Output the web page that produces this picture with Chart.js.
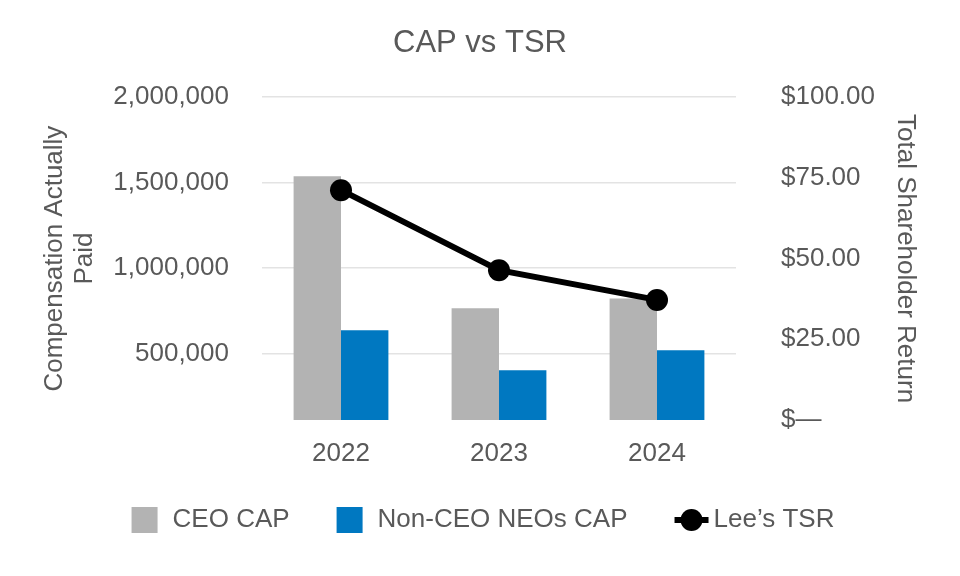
<!DOCTYPE html>
<html>
<head>
<meta charset="utf-8">
<script src="https://cdn.jsdelivr.net/npm/chart.js@4.4.1/dist/chart.umd.min.js"></script>
<style>
  html, body { margin: 0; padding: 0; background: #fff; }
  #wrap { width: 960px; height: 576px; }
</style>
</head>
<body>
<div id="wrap"><canvas id="chart"></canvas></div>
<script>
const years = ["2022", "2023", "2024"];
const ceoCap = [1537000, 765000, 821000];
const neoCap = [636000, 402000, 519000];
const leesTsr = [71.2, 46.4, 37.2];
const capTicks = [500000, 1000000, 1500000, 2000000];
const tsrTicks = [0, 25, 50, 75, 100];

const FONT = "'Liberation Sans', Arial, sans-serif";
const TEXT = "#595959";
const GRAY = "#b3b3b3";
const BLUE = "#0078c1";

// legend drawn by hand so the line item gets its line + dot marker
const bottomLegend = {
  id: "bottomLegend",
  afterDraw(chart) {
    const ctx = chart.ctx;
    const items = chart.data.datasets.map(ds => ({
      text: ds.label,
      type: ds.type || "bar",
      color: ds.backgroundColor
    }));
    ctx.save();
    ctx.font = "26px " + FONT;
    ctx.textBaseline = "middle";
    const box = 26, gap = 15, space = 47, lineW = 34;
    const widths = items.map(it =>
      (it.type === "line" ? lineW + 5 : box + gap) + ctx.measureText(it.text).width);
    const total = widths.reduce((a, b) => a + b, 0) + space * (items.length - 1);
    let x = chart.width / 2 - total / 2 + 3;
    const y = 520;
    items.forEach((it, i) => {
      if (it.type === "line") {
        ctx.strokeStyle = "#000";
        ctx.lineWidth = 6;
        ctx.beginPath();
        ctx.moveTo(x, y);
        ctx.lineTo(x + lineW, y);
        ctx.stroke();
        ctx.fillStyle = "#000";
        ctx.beginPath();
        ctx.arc(x + lineW / 2, y, 11, 0, Math.PI * 2);
        ctx.fill();
        ctx.fillStyle = TEXT;
        ctx.fillText(it.text, x + lineW + 5, y);
      } else {
        ctx.fillStyle = it.color;
        ctx.fillRect(x, y - box / 2, box, box);
        ctx.fillStyle = TEXT;
        ctx.fillText(it.text, x + box + gap, y);
      }
      x += widths[i] + space;
    });
    ctx.restore();
  }
};

new Chart(document.getElementById("chart"), {
  data: {
    labels: years,
    datasets: [
      {
        type: "bar",
        label: "CEO CAP",
        data: ceoCap,
        backgroundColor: GRAY,
        yAxisID: "yCap",
        categoryPercentage: 0.6,
        barPercentage: 1.0,
        order: 2
      },
      {
        type: "bar",
        label: "Non-CEO NEOs CAP",
        data: neoCap,
        backgroundColor: BLUE,
        yAxisID: "yCap",
        categoryPercentage: 0.6,
        barPercentage: 1.0,
        order: 2
      },
      {
        type: "line",
        label: "Lee’s TSR",
        data: leesTsr,
        borderColor: "#000",
        backgroundColor: "#000",
        borderWidth: 6,
        pointRadius: 11,
        pointHoverRadius: 11,
        pointBackgroundColor: "#000",
        pointBorderWidth: 0,
        yAxisID: "yTsr",
        order: 0
      }
    ]
  },
  options: {
    responsive: true,
    maintainAspectRatio: false,
    animation: false,
    layout: { padding: { left: 0, right: 0, top: 0, bottom: 104 } },
    plugins: {
      legend: { display: false },
      tooltip: { enabled: false },
      title: {
        display: true,
        text: "CAP vs TSR",
        color: TEXT,
        font: { family: FONT, size: 31, weight: "normal" },
        padding: { top: 25, bottom: 35 }
      }
    },
    scales: {
      x: {
        grid: { display: false, drawTicks: false },
        border: { display: false },
        ticks: { color: TEXT, font: { family: FONT, size: 26 }, padding: 18 },
        afterFit(scale) { scale.height = 52; }
      },
      yCap: {
        position: "left",
        min: 110000,
        max: 2000000,
        afterBuildTicks(scale) { scale.ticks = capTicks.map(v => ({ value: v })); },
        grid: { color: "#e3e3e3", lineWidth: 1.5, drawTicks: false },
        border: { display: false },
        ticks: {
          color: TEXT,
          font: { family: FONT, size: 26 },
          padding: 33,
          callback: v => v.toLocaleString("en-US")
        },
        title: {
          display: true,
          text: ["Compensation Actually", "Paid"],
          color: TEXT,
          font: { family: FONT, size: 26, lineHeight: 1.15 },
          padding: { top: 40, bottom: 0 }
        },
        afterFit(scale) { scale.width = 262; }
      },
      yTsr: {
        position: "right",
        min: 0,
        max: 100,
        afterBuildTicks(scale) { scale.ticks = tsrTicks.map(v => ({ value: v })); },
        grid: { display: false, drawTicks: false },
        border: { display: false },
        ticks: {
          color: TEXT,
          font: { family: FONT, size: 26 },
          padding: 45,
          callback: v => v === 0 ? "$—" : "$" + v.toFixed(2)
        },
        title: {
          display: true,
          text: "Total Shareholder Return",
          color: TEXT,
          font: { family: FONT, size: 26, lineHeight: 1.15 },
          padding: { top: 40, bottom: 0 }
        },
        afterFit(scale) { scale.width = 224; }
      }
    }
  },
  plugins: [bottomLegend]
});
</script>
</body>
</html>
